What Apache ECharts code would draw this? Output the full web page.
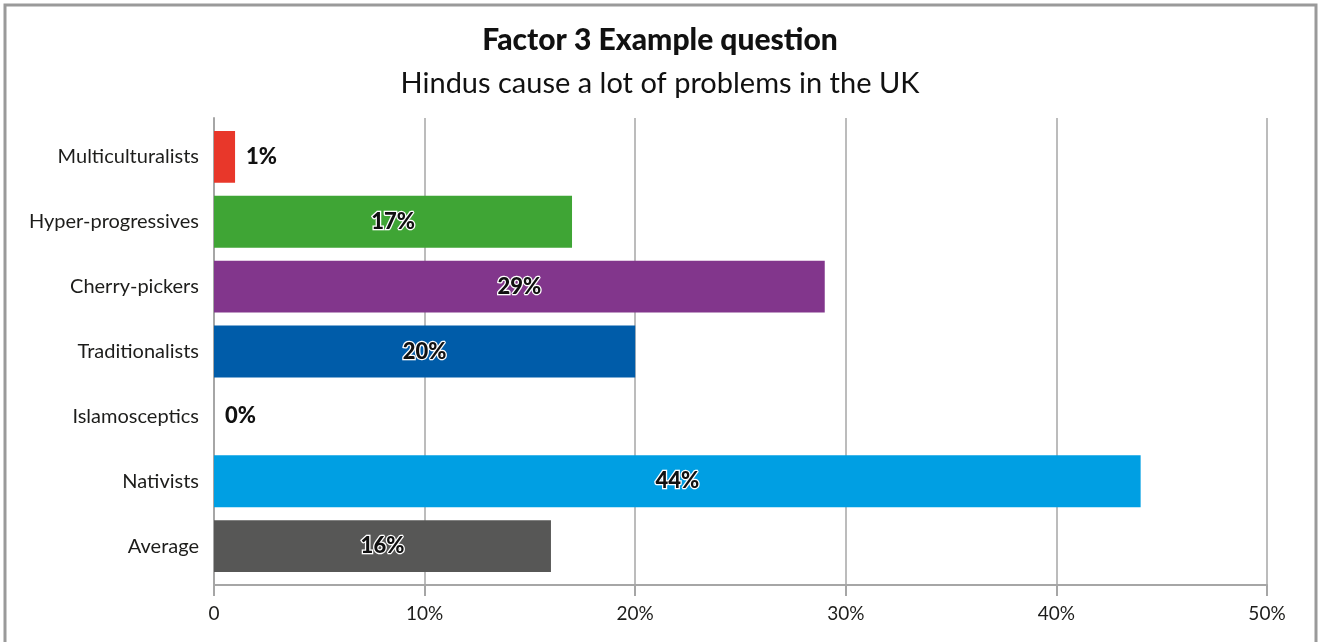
<!DOCTYPE html>
<html>
<head>
<meta charset="utf-8">
<script src="https://cdn.jsdelivr.net/npm/echarts@6/dist/echarts.min.js"></script>
<style>
  html, body { margin: 0; padding: 0; background: #fff; }
  #chart { width: 1320px; height: 642px; }
</style>
</head>
<body>
<div id="chart"></div>
<script>
// Segments, top to bottom
const categories = ['Multiculturalists', 'Hyper-progressives', 'Cherry-pickers', 'Traditionalists', 'Islamosceptics', 'Nativists', 'Average'];
// Share agreeing, percent
const values = [1, 17, 29, 20, 0, 44, 16];
const barColors = ['#E8372A', '#3FA535', '#82368C', '#005CA9', '#009FE3', '#009FE3', '#575756'];
// Bars too short to hold their label get it outside
const outsideLabel = [true, false, false, false, true, false, false];
const xTicks = [0, 10, 20, 30, 40, 50];

const FONT = 'Lato, "Open Sans", sans-serif';
const chart = echarts.init(document.getElementById('chart'));

const data = values.map((v, i) => ({
  value: v,
  itemStyle: { color: barColors[i] },
  label: outsideLabel[i]
    ? { position: 'right', distance: 11, textBorderWidth: 0 }
    : { position: 'inside' }
}));

chart.setOption({
  animation: false,
  title: [
    { text: 'Factor 3 Example question', left: 'center', top: 20,
      textStyle: { fontFamily: FONT, fontSize: 30, fontWeight: 900, color: '#111' } },
    { text: 'Hindus cause a lot of problems in the UK', left: 'center', top: 64,
      textStyle: { fontFamily: FONT, fontSize: 29, fontWeight: 400, color: '#111' } }
  ],
  graphic: [{
    type: 'rect', shape: { x: 5, y: 5, width: 1311, height: 660 },
    style: { fill: 'none', stroke: '#9a9a9a', lineWidth: 3 }, silent: true
  }],
  grid: [
    // frame: gridlines, value axis and category axis line
    { left: 214, width: 1053, top: 118, height: 467 },
    // bars
    { left: 214, width: 1053, top: 124.5, height: 454 }
  ],
  xAxis: [
    { gridIndex: 0, type: 'value', min: 0, max: 50, interval: 10,
      axisLine: { show: true, lineStyle: { color: '#a6a6a6', width: 2 } },
      axisTick: { show: true, length: 11, lineStyle: { color: '#a6a6a6', width: 2 } },
      splitLine: { show: true, lineStyle: { color: '#a6a6a6', width: 1.5 } },
      axisLabel: { fontFamily: FONT, fontSize: 19, color: '#1d1d1b', margin: 19,
        formatter: v => (xTicks.includes(v) ? (v === 0 ? '0' : v + '%') : '') } },
    { gridIndex: 1, type: 'value', min: 0, max: 50, show: false }
  ],
  yAxis: [
    { gridIndex: 0, type: 'value', min: 0, max: 1,
      axisLine: { show: true, lineStyle: { color: '#a6a6a6', width: 2 } },
      axisTick: { show: false }, axisLabel: { show: false }, splitLine: { show: false } },
    { gridIndex: 1, type: 'category', data: categories, inverse: true,
      axisLine: { show: false }, axisTick: { show: false }, splitLine: { show: false },
      axisLabel: { fontFamily: FONT, fontSize: 20, color: '#1d1d1b', margin: 15 } }
  ],
  series: [{
    type: 'bar',
    xAxisIndex: 1, yAxisIndex: 1,
    data: data,
    barCategoryGap: '20%',
    label: {
      show: true,
      formatter: p => p.value + '%',
      fontFamily: FONT, fontSize: 22, fontWeight: 900, color: '#111',
      textBorderColor: '#fff', textBorderWidth: 2.5
    }
  }]
});
</script>
</body>
</html>
